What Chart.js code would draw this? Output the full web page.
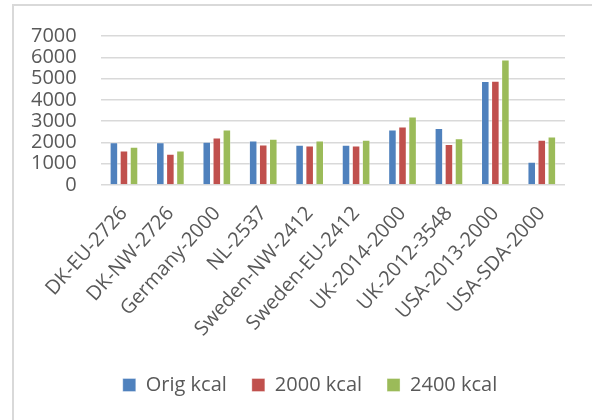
<!DOCTYPE html>
<html>
<head>
<meta charset="utf-8">
<script src="https://cdn.jsdelivr.net/npm/chart.js@4"></script>
<style>
    html, body { margin: 0; padding: 0; background: #fff; }
    #wrap { position: relative; width: 592px; height: 420px; }
    #frame {
        position: absolute; left: 12px; top: 4px; right: -4px; bottom: -4px;
        border-left: 2px solid #D9D9D9; border-top: 2px solid #D9D9D9;
    }
    canvas { position: absolute; left: 0; top: 0; }
</style>
</head>
<body>
<div id="wrap">
    <div id="frame"></div>
    <canvas id="chart" width="592" height="420"></canvas>
</div>
<script>
const categories = ['DK-EU-2726', 'DK-NW-2726', 'Germany-2000', 'NL-2537', 'Sweden-NW-2412',
    'Sweden-EU-2412', 'UK-2014-2000', 'UK-2012-3548', 'USA-2013-2000', 'USA-SDA-2000'];
const origKcal = [2010, 2010, 2030, 2090, 1890, 1890, 2600, 2680, 4880, 1090];
const kcal2000 = [1620, 1470, 2230, 1900, 1850, 1850, 2740, 1920, 4900, 2120];
const kcal2400 = [1790, 1620, 2610, 2170, 2090, 2120, 3220, 2190, 5890, 2280];
const yMax = 7000;
const yStep = 1000;

const textColor = '#595959';
const font = {family: "'Open Sans', sans-serif", size: 20};

function makeSet(label, data, color) {
    return {
        label: label,
        data: data,
        backgroundColor: color,
        borderColor: 'rgba(255,255,255,0.35)',
        borderWidth: 1,
        categoryPercentage: 0.65,
        barPercentage: 0.85
    };
}

// the legend sits a bit right of centre in the original
const legendShift = {
    id: 'legendShift',
    afterLayout(chart) {
        chart.legend.left += 24;
        chart.legend.right += 24;
    }
};

new Chart(document.getElementById('chart'), {
    type: 'bar',
    data: {
        labels: categories,
        datasets: [
            makeSet('Orig kcal', origKcal, '#4F81BD'),
            makeSet('2000 kcal', kcal2000, '#C0504D'),
            makeSet('2400 kcal', kcal2400, '#9BBB59')
        ]
    },
    options: {
        responsive: false,
        animation: false,
        layout: {padding: {left: 7, right: 27, top: 19, bottom: 15}},
        plugins: {
            legend: {
                position: 'bottom',
                labels: {
                    color: textColor,
                    font: font,
                    boxWidth: 13,
                    boxHeight: 13,
                    padding: 25
                }
            },
            tooltip: {enabled: false}
        },
        scales: {
            x: {
                grid: {display: false},
                border: {display: false},
                ticks: {
                    color: textColor,
                    font: font,
                    maxRotation: 48,
                    minRotation: 48,
                    autoSkip: false,
                    padding: 9
                }
            },
            y: {
                min: 0,
                max: yMax,
                grid: {color: '#D9D9D9', lineWidth: 1.5, drawTicks: false},
                border: {display: false},
                ticks: {
                    color: textColor,
                    font: font,
                    padding: 24,
                    stepSize: yStep,
                    autoSkip: false,
                    callback: (v) => String(v)
                }
            }
        }
    },
    plugins: [legendShift]
});
</script>
</body>
</html>
